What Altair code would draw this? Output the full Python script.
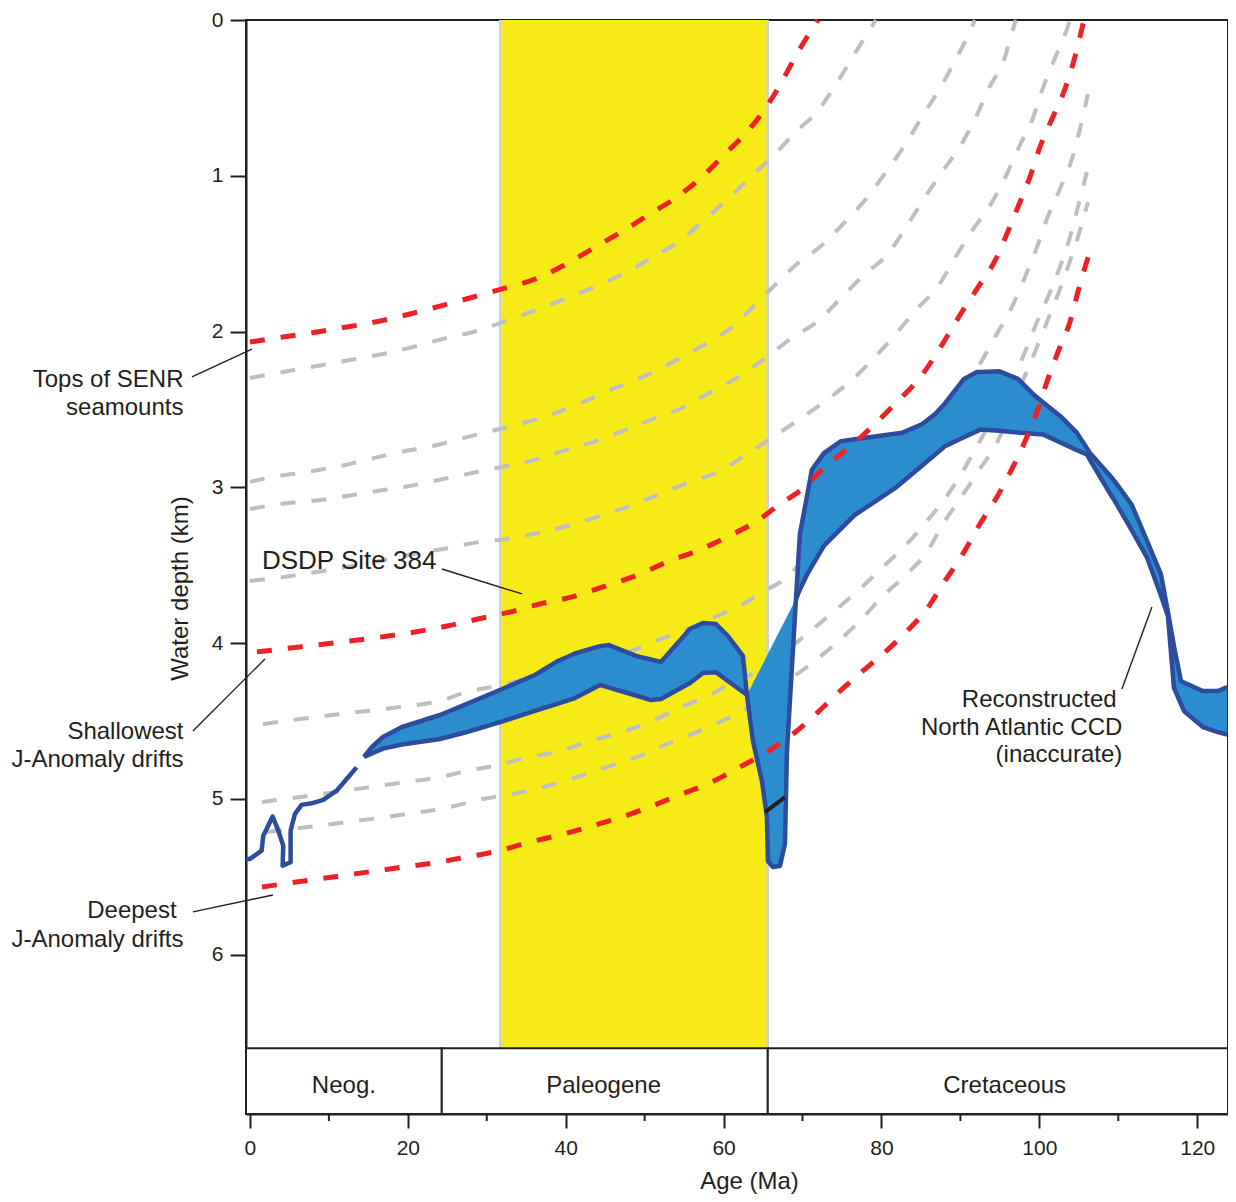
import altair as alt
import pandas as pd

FONT = "Liberation Sans"
TXT = "#231f20"
RED = "#ec2227"
GREY = "#bdbec1"
BLUE_FILL = "#2b8dcd"
BLUE_LINE = "#2e4c9e"
YELLOW = "#f6eb16"
EDGE = "#cdd0da"

W, H = 982, 1094
X_DOMAIN = [-0.5, 123.9]
Y_DOMAIN = [0.0, 7.022]
TIMESCALE_TOP = 6.6

# ---------------- data (age in Ma, water depth in km) ----------------
# red backtrack curves
R1_AGE = [0, 4.18, 8.49, 12.29, 16.47, 20.27, 24.07, 31.04, 36.74, 40.54, 43.96, 47.25, 50.67, 54.09, 57.39, 60.43, 62.96, 65.49, 67.14, 69.29, 71.95]
R1_DEPTH = [2.067, 2.035, 2.003, 1.970, 1.932, 1.887, 1.836, 1.739, 1.650, 1.553, 1.451, 1.354, 1.245, 1.136, 1.001, 0.847, 0.719, 0.552, 0.417, 0.218, 0.0]

R2_AGE = [0.89, 6.33, 12.67, 20.90, 24.96, 28.88, 32.94, 36.74, 40.79, 44.72, 49.40, 52.83, 56.63, 60.43, 64.23, 67.14, 69.80, 72.97, 76.13, 79.17, 81.71, 85.13, 88.04, 90.19, 92.35, 94.50, 96.15, 97.29, 98.81, 100.08, 101.60, 103.24, 104.51, 105.65]
R2_DEPTH = [4.056, 4.024, 3.986, 3.928, 3.890, 3.845, 3.800, 3.748, 3.703, 3.639, 3.556, 3.479, 3.408, 3.318, 3.216, 3.107, 3.017, 2.863, 2.734, 2.593, 2.465, 2.279, 2.054, 1.874, 1.707, 1.534, 1.341, 1.200, 1.008, 0.815, 0.635, 0.443, 0.237, 0.0]

R3_AGE = [1.52, 6.33, 12.67, 19.00, 24.07, 27.49, 31.42, 35.47, 39.27, 43.32, 47.12, 50.92, 54.72, 58.53, 62.07, 65.49, 68.79, 71.95, 74.74, 77.65, 80.19, 83.23, 85.76, 87.79, 90.32, 92.47, 94.63, 96.65, 98.43, 99.70, 100.96, 102.36, 103.88, 104.89, 106.03, 106.41]
R3_DEPTH = [5.565, 5.530, 5.485, 5.440, 5.404, 5.372, 5.334, 5.276, 5.231, 5.173, 5.116, 5.045, 4.968, 4.891, 4.795, 4.698, 4.583, 4.442, 4.307, 4.178, 4.069, 3.922, 3.780, 3.620, 3.427, 3.235, 3.062, 2.869, 2.676, 2.516, 2.323, 2.131, 1.938, 1.746, 1.547, 1.489]

# grey backtrack curves
G1_AGE = [0, 4.18, 8.49, 12.67, 16.85, 20.65, 24.45, 28.76, 32.05, 35.85, 40.54, 43.96, 47.76, 51.05, 54.47, 57.39, 60.81, 64.23, 65.87, 69.29, 71.83, 74.49, 76.51, 79.3]
G1_DEPTH = [2.298, 2.259, 2.221, 2.182, 2.144, 2.099, 2.047, 1.996, 1.938, 1.868, 1.778, 1.707, 1.617, 1.521, 1.418, 1.290, 1.136, 0.969, 0.892, 0.712, 0.590, 0.392, 0.225, 0.0]

G2_AGE = [0, 2.91, 7.22, 11.40, 15.20, 19.00, 23.18, 27.49, 31.67, 34.20, 38.38, 42.18, 45.98, 49.78, 53.59, 57.0, 60.43, 63.72, 66.25, 69.29, 72.33, 75.25, 78.03, 80.57, 82.97, 85.13, 87.28, 89.31, 91.34, 91.84]
G2_DEPTH = [2.965, 2.933, 2.901, 2.863, 2.818, 2.773, 2.734, 2.677, 2.625, 2.593, 2.529, 2.452, 2.368, 2.291, 2.195, 2.099, 1.996, 1.842, 1.714, 1.566, 1.451, 1.303, 1.149, 0.976, 0.802, 0.623, 0.449, 0.263, 0.058, 0.0]

G3_AGE = [0, 3.80, 7.98, 12.29, 16.09, 20.27, 24.45, 28.76, 32.56, 35.47, 39.65, 43.45, 47.25, 51.05, 54.47, 58.65, 62.07, 65.49, 68.79, 71.83, 74.87, 77.91, 80.82, 82.97, 85.38, 87.66, 90.07, 91.97, 93.62, 95.52, 96.78, 97.04]
G3_DEPTH = [3.139, 3.107, 3.087, 3.055, 3.023, 2.991, 2.946, 2.901, 2.863, 2.831, 2.766, 2.709, 2.638, 2.561, 2.497, 2.381, 2.285, 2.163, 2.035, 1.938, 1.784, 1.630, 1.502, 1.341, 1.149, 0.976, 0.802, 0.623, 0.436, 0.257, 0.039, 0.0]

G4_AGE = [0, 4.18, 8.49, 12.29, 16.47, 20.65, 24.45, 29.14, 32.56, 35.85, 40.16, 44.34, 48.14, 51.94, 55.74, 59.54, 62.96, 65.87, 69.29, 73.22, 76.13, 79.17, 81.71, 84.24, 87.28, 89.31, 91.46, 93.87, 95.77, 97.42, 99.19, 100.46, 101.98, 103.63, 103.88]
G4_DEPTH = [3.601, 3.575, 3.543, 3.511, 3.472, 3.427, 3.395, 3.350, 3.331, 3.299, 3.248, 3.184, 3.119, 3.042, 2.965, 2.895, 2.786, 2.689, 2.574, 2.433, 2.317, 2.163, 2.022, 1.868, 1.701, 1.528, 1.354, 1.181, 1.001, 0.815, 0.629, 0.436, 0.244, 0.039, 0.0]

G5_AGE = [1.65, 6.33, 12.67, 19.00, 24.07, 27.49, 31.29, 40.16, 49.02, 51.05, 54.85, 58.27, 62.45, 65.62, 67.39, 68.79, 72.71, 76.51, 81.71, 88.04, 92.47, 94.38, 96.53, 98.18, 99.70, 100.96, 102.61, 104.13, 105.14, 106.16]
G5_DEPTH = [4.519, 4.487, 4.448, 4.410, 4.371, 4.313, 4.275, 4.153, 4.037, 3.992, 3.922, 3.845, 3.748, 3.652, 3.601, 3.537, 3.299, 3.094, 2.850, 2.516, 2.208, 2.035, 1.842, 1.650, 1.457, 1.277, 1.085, 0.892, 0.700, 0.475]

G6_AGE = [1.52, 6.33, 12.67, 19.00, 24.07, 27.49, 31.42, 35.47, 39.27, 43.07, 47.12, 50.92, 54.72, 58.53, 61.82, 64.23, 67.39, 70.56, 74.36, 77.27, 80.19, 83.23, 85.76, 88.29, 90.32, 92.47, 95.01, 97.92, 99.44, 101.09, 102.61, 103.88, 104.89, 106.03]
G6_DEPTH = [5.019, 4.987, 4.942, 4.897, 4.859, 4.820, 4.782, 4.730, 4.692, 4.628, 4.570, 4.499, 4.409, 4.326, 4.230, 4.185, 4.069, 3.941, 3.780, 3.652, 3.511, 3.363, 3.216, 3.055, 2.895, 2.702, 2.465, 2.163, 1.970, 1.778, 1.585, 1.393, 1.200, 0.976]

G7_AGE = [2.15, 11.40, 19.00, 25.34, 29.52, 33.32, 37.62, 41.42, 45.22, 49.02, 52.83, 56.63, 60.81, 62.71, 66.51, 70.56, 73.85, 77.27, 80.19, 83.23, 85.76, 87.79, 89.94, 92.47, 94.75, 96.91, 99.19, 100.71, 102.23, 103.63, 104.89, 106.16]
G7_DEPTH = [5.212, 5.154, 5.103, 5.051, 5.000, 4.968, 4.917, 4.859, 4.795, 4.730, 4.647, 4.570, 4.474, 4.422, 4.294, 4.153, 4.018, 3.857, 3.697, 3.556, 3.415, 3.235, 3.075, 2.882, 2.702, 2.433, 2.163, 1.970, 1.778, 1.585, 1.393, 1.168]

# reconstructed CCD: single line (youngest part)
CCD_LINE_AGE = [-0.5, 0.0, 1.48, 1.69, 2.11, 2.87, 3.59, 4.22, 4.14, 5.15, 5.15, 5.70, 6.54, 7.81, 9.29, 10.98, 12.25, 13.51]
CCD_LINE_DEPTH = [5.385, 5.385, 5.332, 5.236, 5.193, 5.113, 5.203, 5.300, 5.428, 5.406, 5.203, 5.096, 5.038, 5.028, 5.006, 4.947, 4.872, 4.797]

# reconstructed CCD: band (shallow edge / deep edge)
BAND_AGE = [14.44, 15.45, 16.85, 19.26, 24.07, 27.49, 31.80, 36.10, 39.02, 41.17, 44.34, 45.48, 48.90, 50.80, 52.07, 55.74, 57.39, 59.03, 60.55, 62.45, 62.96,
            63.72, 64.86, 65.49, 65.62, 66.25, 67.14, 67.77, 68.03, 68.66, 69.17,
            69.67, 70.56, 71.19, 72.71, 74.87, 76.64, 79.17, 81.71, 82.59, 85.13, 86.77, 88.04, 90.45, 92.10, 92.60, 94.88, 97.29, 99.19, 100.46, 102.86, 104.76,
            106.03, 106.41, 108.94, 109.58, 111.73, 113.63, 115.40, 116.29, 117.05, 117.94, 118.32, 120.72, 122.62, 123.80]
BAND_TOP = [4.730, 4.666, 4.602, 4.538, 4.461, 4.390, 4.297, 4.204, 4.114, 4.066, 4.019, 4.012, 4.082, 4.105, 4.121, 3.909, 3.870, 3.877, 3.954, 4.082, 4.332,
            4.257, 4.144, 4.081, 4.068, 4.005, 3.917, 3.854, 3.829, 3.766, 3.710,
            3.299, 3.058, 2.887, 2.780, 2.703, 2.691, 2.673, 2.655, 2.650, 2.595, 2.530, 2.461, 2.304, 2.260, 2.259, 2.254, 2.304, 2.400, 2.454, 2.552, 2.650,
            2.748, 2.779, 2.924, 2.963, 3.114, 3.341, 3.557, 3.800, 4.018, 4.243, 4.252, 4.307, 4.307, 4.282]
BAND_BOTTOM = [4.730, 4.708, 4.677, 4.650, 4.615, 4.570, 4.505, 4.435, 4.388, 4.352, 4.268, 4.285, 4.336, 4.365, 4.358, 4.255, 4.191, 4.186, 4.243, 4.313, 4.332,
               4.628, 4.884, 5.116, 5.398, 5.437, 5.430, 5.289, 4.692, 4.153, 3.716,
               3.656, 3.561, 3.506, 3.375, 3.265, 3.177, 3.091, 3.005, 2.968, 2.861, 2.791, 2.736, 2.678, 2.639, 2.628, 2.637, 2.647, 2.655, 2.660, 2.716, 2.761,
               2.789, 2.823, 3.038, 3.089, 3.278, 3.449, 3.694, 3.825, 4.286, 4.390, 4.435, 4.539, 4.571, 4.587]
PLUNGE_START = 62.96
PLUNGE_END = 69.17

# short black marker on the DSDP 384 record
MARK_AGE = [65.24, 67.77]
MARK_DEPTH = [5.085, 4.989]

# yellow interval and time scale
YELLOW_AGE = [31.7, 65.6]
PERIOD_NAMES = ["Neog.", "Paleogene", "Cretaceous"]
PERIOD_START = [-0.5, 24.3, 65.6]
PERIOD_END = [24.3, 65.6, 123.9]
PERIOD_LABEL_AGE = [11.9, 44.8, 95.6]
PERIOD_LABEL_DEPTH = 6.89

MAJOR_TICKS = [0, 20, 40, 60, 80, 100, 120]
MINOR_TICKS = [10, 30, 50, 70, 90, 110]
DEPTH_TICKS = [0, 1, 2, 3, 4, 5, 6]

# annotations
NOTE_TEXT = ["Tops of SENR", "seamounts", "Shallowest", "J-Anomaly drifts", "Deepest", "J-Anomaly drifts",
             "Reconstructed", "North Atlantic CCD", "(inaccurate)"]
NOTE_AGE = [-8.42, -8.42, -8.42, -8.42, -9.29, -8.42, 109.79, 110.51, 110.51]
NOTE_DEPTH = [2.356, 2.533, 4.613, 4.797, 5.767, 5.950, 4.409, 4.589, 4.762]
SITE_TEXT = "DSDP Site 384"
SITE_AGE = 1.52
SITE_DEPTH = 3.524
LEADER_AGE1 = [-7.35, 24.32, -7.22, -7.22, 110.46]
LEADER_DEPTH1 = [2.291, 3.524, 4.564, 5.725, 4.294]
LEADER_AGE2 = [0.25, 34.46, 1.90, 2.91, 114.26]
LEADER_DEPTH2 = [2.112, 3.684, 4.101, 5.616, 3.768]

# ---------------- tables ----------------
def curves(named):
    rows = []
    for name, ages, depths in named:
        for i, (a, d) in enumerate(zip(ages, depths)):
            rows.append({"curve": name, "age": a, "depth": d, "i": i})
    return pd.DataFrame(rows)

red_df = curves([("R1", R1_AGE, R1_DEPTH), ("R2", R2_AGE, R2_DEPTH), ("R3", R3_AGE, R3_DEPTH)])
grey_df = curves([("G1", G1_AGE, G1_DEPTH), ("G2", G2_AGE, G2_DEPTH), ("G3", G3_AGE, G3_DEPTH),
                  ("G4", G4_AGE, G4_DEPTH), ("G5", G5_AGE, G5_DEPTH), ("G6", G6_AGE, G6_DEPTH),
                  ("G7", G7_AGE, G7_DEPTH)])

band_df = pd.DataFrame({"age": BAND_AGE, "top": BAND_TOP, "bottom": BAND_BOTTOM})

# outlines of the CCD band, derived from the band edges
o_upper_a, o_upper_d, o_lower_a, o_lower_d, o_lobe_a, o_lobe_d = [], [], [], [], [], []
for a, t, b in zip(BAND_AGE, BAND_TOP, BAND_BOTTOM):
    if a <= PLUNGE_START:
        o_upper_a.append(a); o_upper_d.append(t)
        o_lower_a.append(a); o_lower_d.append(b)
    elif a <= PLUNGE_END:
        o_upper_a.append(a); o_upper_d.append(b)
    else:
        o_upper_a.append(a); o_upper_d.append(t)
    if a >= PLUNGE_END:
        o_lobe_a.append(a); o_lobe_d.append(b)
outline_df = curves([("line", CCD_LINE_AGE, CCD_LINE_DEPTH), ("upper", o_upper_a, o_upper_d),
                     ("lower", o_lower_a, o_lower_d), ("lobe", o_lobe_a, o_lobe_d)])

mark_df = pd.DataFrame({"a1": [MARK_AGE[0]], "a2": [MARK_AGE[1]], "d1": [MARK_DEPTH[0]], "d2": [MARK_DEPTH[1]]})
yellow_df = pd.DataFrame({"a1": [YELLOW_AGE[0]], "a2": [YELLOW_AGE[1]], "d1": [0.0], "d2": [TIMESCALE_TOP]})
edge_df = pd.DataFrame({"age": YELLOW_AGE, "d1": [0.0, 0.0], "d2": [TIMESCALE_TOP, TIMESCALE_TOP]})
period_df = pd.DataFrame({"a1": PERIOD_START, "a2": PERIOD_END, "d1": TIMESCALE_TOP, "d2": Y_DOMAIN[1],
                          "name": PERIOD_NAMES, "la": PERIOD_LABEL_AGE, "ld": PERIOD_LABEL_DEPTH})
minor_df = pd.DataFrame({"age": MINOR_TICKS})
note_df = pd.DataFrame({"age": NOTE_AGE, "depth": NOTE_DEPTH, "text": NOTE_TEXT})
site_df = pd.DataFrame({"age": [SITE_AGE], "depth": [SITE_DEPTH], "text": [SITE_TEXT]})
leader_df = pd.DataFrame({"a1": LEADER_AGE1, "d1": LEADER_DEPTH1, "a2": LEADER_AGE2, "d2": LEADER_DEPTH2})

# ---------------- scales & axes ----------------
xs = alt.Scale(domain=X_DOMAIN, nice=False, zero=False)
ys = alt.Scale(domain=Y_DOMAIN, nice=False, zero=False, reverse=True)

X_AXIS = alt.Axis(values=MAJOR_TICKS, title="Age (Ma)", grid=False, labelFont=FONT, labelFontSize=21,
                  labelColor=TXT, labelPadding=9, labelFlush=False, labelOverlap=False,
                  tickSize=14, tickWidth=2, tickColor=TXT, domainColor=TXT, domainWidth=2,
                  titleFont=FONT, titleFontSize=24, titleFontWeight="normal", titleColor=TXT,
                  titleX=503, titleY=74, titleAlign="center", titleBaseline="alphabetic")
Y_AXIS = alt.Axis(values=DEPTH_TICKS, title="Water depth (km)", grid=False, labelFont=FONT, labelFontSize=21,
                  labelColor=TXT, labelPadding=7, labelFlush=False, labelOverlap=False,
                  tickSize=16, tickWidth=2, tickColor=TXT, domainColor=TXT, domainWidth=2,
                  titleFont=FONT, titleFontSize=24, titleFontWeight="normal", titleColor=TXT,
                  titleX=-66, titleY=568, titleAngle=270, titleAlign="center", titleBaseline="middle")

def X(f):
    return alt.X(f + ":Q", scale=xs, axis=X_AXIS)

def Y(f):
    return alt.Y(f + ":Q", scale=ys, axis=Y_AXIS)

# ---------------- layers ----------------
yellow = alt.Chart(yellow_df).mark_rect(color=YELLOW).encode(x=X("a1"), x2="a2", y=Y("d1"), y2="d2")
edges = alt.Chart(edge_df).mark_rule(color=EDGE, strokeWidth=2.5).encode(x=X("age"), y=Y("d1"), y2="d2")

greys = alt.Chart(grey_df).mark_line(color=GREY, strokeWidth=4, strokeDash=[15, 16], interpolate="monotone").encode(
    x=X("age"), y=Y("depth"), detail="curve:N", order="i:Q")

band = alt.Chart(band_df).mark_area(color=BLUE_FILL, opacity=1).encode(x=X("age"), y=Y("top"), y2="bottom")

outline = alt.Chart(outline_df).mark_line(color=BLUE_LINE, strokeWidth=4.5, strokeJoin="round").encode(
    x=X("age"), y=Y("depth"), detail="curve:N", order="i:Q")

marker = alt.Chart(mark_df).mark_rule(color=TXT, strokeWidth=4).encode(x=X("a1"), x2="a2", y=Y("d1"), y2="d2")

reds = alt.Chart(red_df).mark_line(color=RED, strokeWidth=5, strokeDash=[15, 16], interpolate="monotone").encode(
    x=X("age"), y=Y("depth"), detail="curve:N", order="i:Q")

periods = alt.Chart(period_df).mark_rect(fill="white", stroke=TXT, strokeWidth=2).encode(
    x=X("a1"), x2="a2", y=Y("d1"), y2="d2")
period_text = alt.Chart(period_df).mark_text(font=FONT, fontSize=24, color=TXT, align="center",
                                             baseline="alphabetic").encode(x=X("la"), y=Y("ld"), text="name:N")

minor = alt.Chart(minor_df).mark_rule(color=TXT, strokeWidth=2).encode(
    x=X("age"), y=alt.value(H), y2=alt.value(H + 7))

leaders = alt.Chart(leader_df).mark_rule(color=TXT, strokeWidth=1.4).encode(
    x=X("a1"), x2="a2", y=Y("d1"), y2="d2")

notes = alt.Chart(note_df).mark_text(font=FONT, fontSize=24, color=TXT, align="right",
                                     baseline="alphabetic").encode(x=X("age"), y=Y("depth"), text="text:N")
site = alt.Chart(site_df).mark_text(font=FONT, fontSize=26, color=TXT, align="left",
                                    baseline="alphabetic").encode(x=X("age"), y=Y("depth"), text="text:N")

chart = alt.layer(
    yellow, edges, greys, band, outline, marker, reds, periods, period_text, minor, leaders, notes, site
).properties(
    width=W, height=H,
    autosize=alt.AutoSizeParams(type="none"),
    padding={"left": 238, "top": 12, "right": 0, "bottom": 80},
    background="white",
).configure_view(stroke=TXT, strokeWidth=2)

chart.save("out.html", embed_options={"renderer": "svg", "actions": False})
